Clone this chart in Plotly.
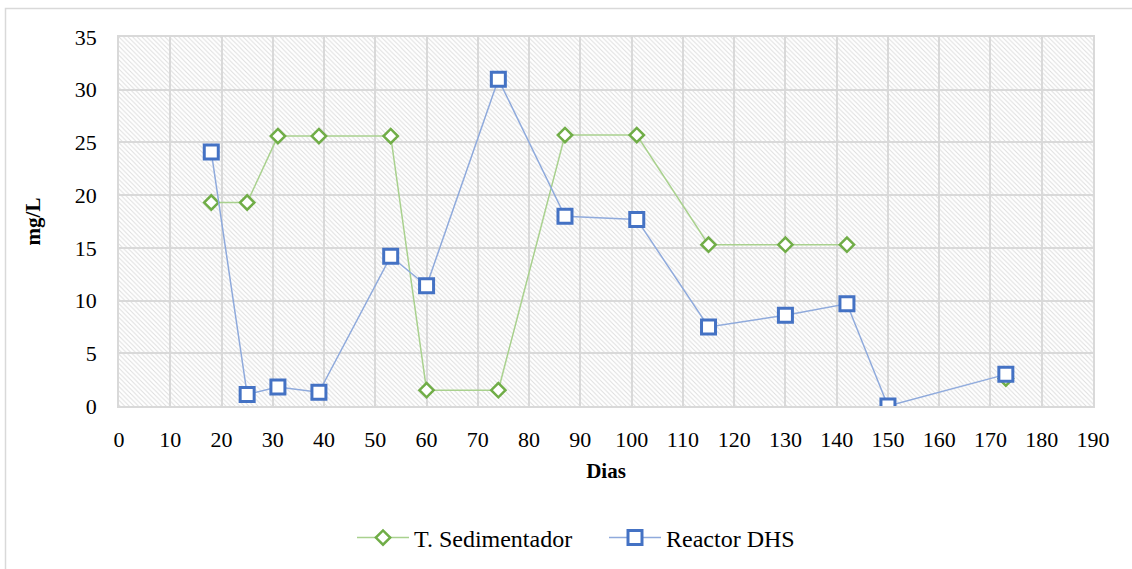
import base64
import plotly.graph_objects as go

# ---- data ----
dias = [18, 25, 31, 39, 53, 60, 74, 87, 101, 115, 130, 142, 150, 173]
sedimentador = [19.3, 19.3, 25.6, 25.6, 25.6, 1.5, 1.5, 25.7, 25.7, 15.3, 15.3, 15.3, None, 2.6]
reactor_dhs = [24.1, 1.1, 1.8, 1.3, 14.2, 11.4, 31.0, 18.0, 17.7, 7.5, 8.6, 9.7, 0.0, 3.0]
x_ticks = list(range(0, 191, 10))
y_ticks = list(range(0, 36, 5))

W, H = 1132, 569
L, R, T, B = 119, 39, 37, 163
PW, PH = W - L - R, H - T - B

FONT = "Liberation Serif"
GRID = "#d9d9d9"

# hatched plot background (diagonal "\" lines)
svg = (
    f'<svg xmlns="http://www.w3.org/2000/svg" width="{PW}" height="{PH}" viewBox="0 0 {PW} {PH}">'
    '<defs><pattern id="p" width="4.6" height="4.6" patternUnits="userSpaceOnUse">'
    '<path d="M-1,-1 L5.6,5.6 M-1,3.6 L1,5.6 M3.6,-1 L5.6,1" stroke="#dedede" stroke-width="1"/>'
    '</pattern></defs><rect width="100%" height="100%" fill="url(#p)"/></svg>'
)
svg_uri = "data:image/svg+xml;base64," + base64.b64encode(svg.encode()).decode()

fig = go.Figure()
fig.add_trace(go.Scatter(
    x=dias, y=sedimentador, name="T. Sedimentador", mode="lines+markers",
    line=dict(color="#a9d18e", width=1.5),
    marker=dict(symbol="diamond", size=11, color="white",
                line=dict(color="#70ad47", width=2.5)),
))
fig.add_trace(go.Scatter(
    x=dias, y=reactor_dhs, name="Reactor DHS", mode="lines+markers",
    line=dict(color="#8faadc", width=1.5),
    marker=dict(symbol="square", size=14, color="white",
                line=dict(color="#4472c4", width=3)),
))


def px_x(p):
    return (p - L) / PW


def px_y(p):
    return (H - B - p) / PH


fig.update_layout(
    width=W, height=H,
    margin=dict(l=L, r=R, t=T, b=B, pad=0, autoexpand=False),
    paper_bgcolor="white", plot_bgcolor="white",
    font=dict(family=FONT, color="#000000", size=22),
    showlegend=True,
    legend=dict(orientation="h", x=px_x(352), xanchor="left",
                y=px_y(538), yanchor="middle",
                font=dict(family=FONT, size=24, color="#000000"),
                entrywidth=185, entrywidthmode="pixels", itemwidth=52,
                tracegroupgap=0, bgcolor="rgba(0,0,0,0)"),
    images=[dict(source=svg_uri, xref="paper", yref="paper", x=0, y=1,
                 sizex=1, sizey=1, xanchor="left", yanchor="top",
                 sizing="stretch", layer="below")],
    shapes=[dict(type="rect", xref="paper", yref="paper",
                 x0=px_x(5.5), x1=px_x(1200), y0=px_y(8.5), y1=px_y(700),
                 line=dict(color="#d9d9d9", width=1.5), fillcolor="rgba(0,0,0,0)",
                 layer="below")],
    xaxis=dict(range=[0, 190], tickvals=x_ticks, ticktext=[str(v) for v in x_ticks],
               showgrid=True, gridcolor=GRID, gridwidth=1.5, automargin=False,
               showline=True, linecolor=GRID, linewidth=1.5, mirror=True,
               zeroline=False, ticks="", ticklabelstandoff=13,
               tickfont=dict(family=FONT, size=22, color="#000000"),
               title=dict(text="<b>Dias</b>", font=dict(family=FONT, size=21, color="#000000"), standoff=12)),
    yaxis=dict(range=[0, 35], tickvals=y_ticks, ticktext=[str(v) for v in y_ticks],
               showgrid=True, gridcolor=GRID, gridwidth=1.5, automargin=False,
               showline=True, linecolor=GRID, linewidth=1.5, mirror=True,
               zeroline=False, ticks="", ticklabelstandoff=16,
               tickfont=dict(family=FONT, size=22, color="#000000"),
               title=dict(text="<b>mg/L</b>", font=dict(family=FONT, size=21, color="#000000"), standoff=28)),
)

fig.write_html("out.html")
